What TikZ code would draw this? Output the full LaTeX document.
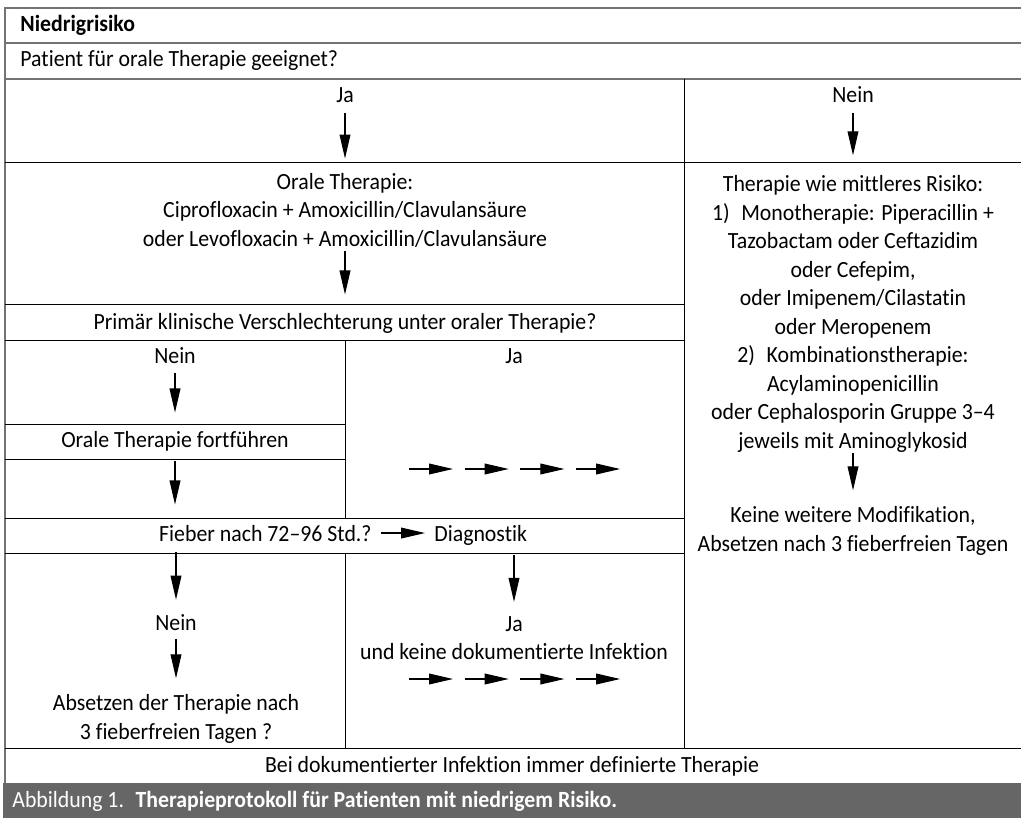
\documentclass[tikz,border=0pt]{standalone}
\usepackage{fontspec}
\setmainfont{Carlito}[Ligatures={NoCommon}, FakeStretch=0.94]
\usetikzlibrary{arrows.meta}

\begin{document}
\begin{tikzpicture}[x=0.5pt, y=-0.5pt, every node/.style={font=\fontsize{11.6}{14.25}\selectfont, inner sep=0pt}, >={Triangle[length=12pt, width=5.4pt]}, rule/.style={line width=0.5pt}, frame/.style={line width=1pt, black!55}, ln/.style={anchor=base}, blk/.style={align=center}, arr/.style={->, line width=0.55pt}]
	\useasboundingbox (0,0) rectangle (1021,818);
	% grid of the table
	\fill[black!60] (3,783) rectangle (1021,818);
	\draw[frame] (5,783) -- (5,8) -- (1021,8);
	\draw[frame] (5,43) -- (1021,43);
	\draw[frame] (5,79) -- (1021,79);
	\foreach \y in {163,748} {\draw[rule] (5,\y) -- (1021,\y);}
	\foreach \y in {304,340,518,553} {\draw[rule] (5,\y) -- (684,\y);}
	\foreach \y in {424,459} {\draw[rule] (5,\y) -- (345,\y);}
	\draw[rule] (684,79) -- (684,748);
	\draw[rule] (345,340) -- (345,518);
	\draw[rule] (345,553) -- (345,748);
	% texts
	\node[ln, anchor=base west, font=\fontsize{11.6}{14.25}\selectfont\bfseries] (titel) at (20,32) {Niedrigrisiko};
	\node[ln, anchor=base west] (frage) at (20,67) {Patient für orale Therapie geeignet?};
	\node[ln] (ja) at (345,103) {Ja};
	\node[ln] (nein) at (853,103) {Nein};
	\node[blk] (oral) at (345,210) {Orale Therapie:\\Ciprofloxacin + Amoxicillin/Clavulansäure\\oder Levofloxacin + Amoxicillin/Clavulansäure};
	\node[blk] (mittel) at (853,314) {Therapie wie mittleres Risiko:\\1)\enspace Monotherapie: Piperacillin +\\Tazobactam oder Ceftazidim\\oder Cefepim,\\oder Imipenem/Cilastatin\\oder Meropenem\\2)\enspace Kombinationstherapie:\\Acylaminopenicillin\\oder Cephalosporin Gruppe 3–4\\jeweils mit Aminoglykosid};
	\node[blk] (keine) at (853,531) {Keine weitere Modifikation,\\Absetzen nach 3 fieberfreien Tagen};
	\node[ln] (primaer) at (345,329) {Primär klinische Verschlechterung unter oraler Therapie?};
	\node[ln] (pnein) at (175,363) {Nein};
	\node[ln] (pja) at (514,363) {Ja};
	\node[ln] (weiter) at (175,447) {Orale Therapie fortführen};
	\node[ln, anchor=base east] (fieber) at (372,541) {Fieber nach 72–96 Std.?};
	\node[ln, anchor=base west] (diag) at (434,541) {Diagnostik};
	\node[ln] (fnein) at (176,630) {Nein};
	\node[blk] (stopp) at (176,719) {Absetzen der Therapie nach\\3 fieberfreien Tagen ?};
	\node[blk] (fja) at (514,638) {Ja\\und keine dokumentierte Infektion};
	\node[ln] (immer) at (512,772) {Bei dokumentierter Infektion immer definierte Therapie};
	\node[ln, anchor=base west, text=white] (abb) at (12,807) {Abbildung 1.\enspace\textbf{Therapieprotokoll für Patienten mit niedrigem Risiko.}};
	% arrows
	\draw[arr, shorten <=4.5pt, shorten >=7pt] (ja) -- (oral);
	\draw[arr, shorten <=4.5pt, shorten >=10pt] (nein) -- (mittel);
	\draw[arr, shorten <=2pt, shorten >=9pt] (oral) -- (primaer);
	\draw[arr, shorten <=4.5pt, shorten >=9pt] (pnein) -- (weiter);
	\draw[arr, shorten <=5pt, shorten >=10pt] (weiter) -- (weiter |- fieber.north);
	\draw[arr, shorten <=4.5pt, shorten >=4.5pt] (fieber.east) -- (fieber.east -| diag.west);
	\draw[arr, shorten <=5pt, shorten >=7pt] (fnein |- fieber.south) -- (fnein.north);
	\draw[arr, shorten <=5pt, shorten >=7pt] (fja |- diag.south) -- (fja.north);
	\draw[arr, shorten <=4pt, shorten >=8pt] (fnein) -- (stopp);
	\draw[arr, shorten <=0pt, shorten >=8pt] (mittel) -- (keine);
	\foreach \i in {0,1,2,3} {
		\coordinate (oben\i) at ({409+55.7*\i},469);
		\coordinate (unten\i) at ({409+55.7*\i},679);
		\draw[arr] (oben\i) -- ++(44,0);
		\draw[arr] (unten\i) -- ++(44,0);
	}
\end{tikzpicture}
\end{document}
